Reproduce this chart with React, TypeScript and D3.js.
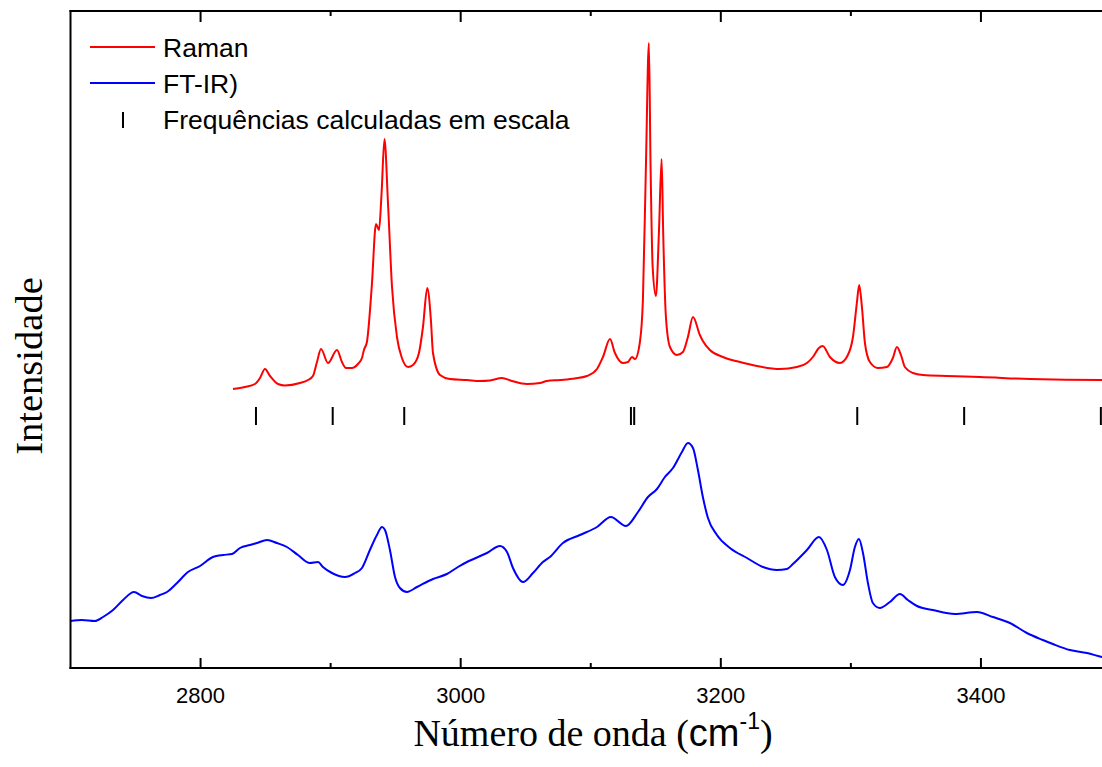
import React from 'react';
import * as d3 from 'd3';

// Raman spectrum: [wavenumber (cm-1), intensity (a.u.)]
const ramanSpectrum: [number, number][] = [
  [2824.9, 279], [2834.1, 281], [2841.8, 284], [2845.7, 290], [2849.5, 299], [2853.4, 292],
  [2859.5, 284], [2864.9, 282.5], [2876.4, 285], [2882.6, 288], [2886.4, 292], [2889.5, 306],
  [2892.6, 319], [2898.0, 305], [2904.9, 318], [2908.7, 306], [2911.8, 300], [2916.4, 300],
  [2921.0, 304], [2924.1, 310], [2925.6, 318], [2927.9, 326], [2931.6, 381], [2934.9, 444],
  [2937.2, 438], [2939.1, 473], [2941.4, 529], [2944.1, 465], [2947.2, 381], [2951.0, 331],
  [2954.8, 310], [2959.5, 301], [2963.3, 303], [2967.9, 315], [2971.0, 341], [2974.3, 380],
  [2977.1, 348], [2978.7, 315], [2984.1, 293], [2991.7, 289], [3004.8, 288], [3014.8, 287],
  [3022.5, 287.5], [3031.7, 290], [3039.4, 287], [3050.9, 284], [3060.9, 285], [3066.3, 287],
  [3076.3, 288], [3087.8, 289.5], [3097.1, 292], [3104.8, 299], [3109.4, 311], [3114.8, 329],
  [3118.6, 315], [3124.7, 305], [3128.6, 306], [3131.7, 311], [3134.0, 309], [3137.8, 326],
  [3140.1, 368], [3142.4, 501], [3144.7, 625], [3146.0, 501], [3147.6, 401], [3150.1, 372],
  [3152.4, 435], [3154.5, 509], [3155.7, 435], [3157.8, 351], [3160.9, 321], [3166.3, 313],
  [3170.9, 316], [3174.7, 331], [3178.6, 351], [3183.9, 333], [3186.2, 327], [3191.6, 318],
  [3201.6, 311], [3214.7, 306], [3227.8, 302], [3245.4, 299], [3258.5, 301], [3266.2, 305],
  [3270.8, 311], [3275.4, 320], [3278.3, 322], [3283.9, 311], [3291.6, 305], [3297.7, 313],
  [3301.6, 331], [3304.6, 365], [3306.4, 383], [3308.5, 361], [3310.8, 325], [3314.6, 306],
  [3320.8, 300], [3327.7, 301], [3332.3, 310], [3335.4, 321], [3338.5, 313], [3341.5, 301],
  [3347.7, 295], [3355.4, 293], [3373.8, 292], [3399.2, 291], [3437.6, 289], [3493.0, 288],
  [3500.0, 288],
];

// FT-IR spectrum: [wavenumber (cm-1), intensity (a.u.)]
const irSpectrum: [number, number][] = [
  [2700.0, 47], [2708.8, 48], [2718.8, 47], [2725.0, 51], [2732.7, 58], [2740.4, 68],
  [2748.8, 76], [2755.0, 72], [2761.9, 70], [2768.8, 73], [2774.2, 76], [2781.9, 85],
  [2790.3, 96], [2799.6, 102], [2809.5, 111], [2817.2, 113], [2824.2, 114], [2830.3, 120],
  [2838.0, 123], [2843.4, 125], [2851.1, 128], [2858.7, 125], [2866.4, 121], [2874.9, 113],
  [2884.1, 105], [2890.3, 106], [2894.1, 101], [2901.0, 95], [2911.0, 91], [2918.7, 95],
  [2924.1, 100], [2930.2, 118], [2935.6, 133], [2939.5, 141], [2941.8, 138], [2945.6, 118],
  [2949.5, 91], [2953.3, 80], [2958.7, 76], [2966.4, 81], [2978.7, 89], [2989.4, 94],
  [2997.9, 101], [3004.8, 106], [3020.2, 115], [3030.2, 122], [3035.6, 116], [3040.2, 100],
  [3047.9, 86], [3055.6, 95], [3063.2, 106], [3068.6, 111], [3078.6, 125], [3091.7, 133],
  [3104.8, 141], [3115.5, 151], [3127.0, 142], [3136.3, 156], [3144.0, 171], [3150.9, 179],
  [3157.0, 191], [3163.2, 200], [3170.1, 216], [3174.7, 225], [3178.6, 220], [3182.4, 198],
  [3186.2, 171], [3190.1, 150], [3197.0, 133], [3207.0, 120], [3220.1, 110], [3232.4, 101],
  [3243.1, 98], [3250.8, 99], [3255.4, 104], [3266.2, 118], [3275.4, 131], [3281.6, 118],
  [3287.7, 91], [3293.9, 83], [3299.3, 98], [3303.1, 121], [3306.2, 129], [3309.3, 115],
  [3313.1, 85], [3316.9, 65], [3322.3, 60], [3330.0, 66], [3337.7, 74], [3343.8, 68],
  [3350.8, 62], [3363.1, 58], [3380.0, 54], [3396.9, 56], [3409.2, 51], [3422.3, 45],
  [3435.3, 35], [3447.6, 28], [3455.3, 24], [3468.4, 18], [3481.5, 15], [3493.0, 11],
  [3500.0, 9],
];

// Scaled calculated frequencies (cm-1)
const calculatedFrequencies = [2842.6, 2901.6, 2956.6, 3130.9, 3133.4, 3304.9, 3387.1, 3492.2];

const majorTicks = [2800, 3000, 3200, 3400];
const minorTicks = [2900, 3100, 3300];

const legendLabels = ['Raman', 'FT-IR)', 'Frequências calculadas em escala'];

const W = 1102;
const H = 767;
const left = 70.5;
const top = 11;
const bottom = 668;
const right = 1111;

const SANS = '"Liberation Sans", Arial, sans-serif';
const SERIF = '"Liberation Serif", "Times New Roman", serif';

export default function App() {
  const x = d3.scaleLinear().domain([2700, 3500]).range([left, right]);
  const y = d3.scaleLinear().domain([0, 657]).range([bottom, top]);

  const line = d3
    .line<[number, number]>()
    .x((d) => x(d[0]))
    .y((d) => y(d[1]))
    .curve(d3.curveMonotoneX);

  // vertical extent of the calculated-frequency markers (intensity units)
  const markLo = 243;
  const markHi = 261;

  return (
    <svg
      width={W}
      height={H}
      style={{ position: 'absolute', left: 0, top: 0, background: '#fff' }}
    >
      <defs>
        <clipPath id="plot-area">
          <rect x={left} y={top} width={right - left} height={bottom - top} />
        </clipPath>
      </defs>

      <g clipPath="url(#plot-area)">
        <path d={line(irSpectrum) ?? ''} fill="none" stroke="#0000ff" strokeWidth={2} />
        <path d={line(ramanSpectrum) ?? ''} fill="none" stroke="#ff0000" strokeWidth={2} />
        {calculatedFrequencies.map((f, i) => (
          <line
            key={i}
            x1={x(f)}
            x2={x(f)}
            y1={y(markLo)}
            y2={y(markHi)}
            stroke="#000"
            strokeWidth={2}
          />
        ))}
      </g>

      {/* frame */}
      <line x1={left} x2={left} y1={top - 1} y2={bottom + 1} stroke="#000" strokeWidth={2} />
      <line x1={left - 1} x2={right} y1={top} y2={top} stroke="#000" strokeWidth={2} />
      <line x1={left - 1} x2={right} y1={bottom} y2={bottom} stroke="#000" strokeWidth={2} />
      <line x1={right} x2={right} y1={top} y2={bottom} stroke="#000" strokeWidth={2} />

      {/* ticks */}
      {majorTicks.map((t) => (
        <g key={t}>
          <line x1={x(t)} x2={x(t)} y1={bottom} y2={bottom - 10} stroke="#000" strokeWidth={2} />
          <line x1={x(t)} x2={x(t)} y1={top} y2={top + 11} stroke="#000" strokeWidth={2} />
          <text
            x={x(t)}
            y={703}
            textAnchor="middle"
            fontFamily={SANS}
            fontSize={22}
            fill="#000"
          >
            {t}
          </text>
        </g>
      ))}
      {minorTicks.map((t) => (
        <g key={t}>
          <line x1={x(t)} x2={x(t)} y1={bottom} y2={bottom - 5} stroke="#000" strokeWidth={2} />
          <line x1={x(t)} x2={x(t)} y1={top} y2={top + 5} stroke="#000" strokeWidth={2} />
        </g>
      ))}

      {/* axis titles */}
      <text x={593} y={746} textAnchor="middle" fill="#000">
        <tspan fontFamily={SERIF} fontSize={38}>Número de onda (</tspan>
        <tspan fontFamily={SANS} fontSize={38}>cm</tspan>
        <tspan fontFamily={SANS} fontSize={23} dy={-17}>-1</tspan>
        <tspan fontFamily={SERIF} fontSize={38} dy={17}>)</tspan>
      </text>
      <text
        transform={`translate(42, 366) rotate(-90)`}
        textAnchor="middle"
        fontFamily={SERIF}
        fontSize={38.5}
        fill="#000"
      >
        Intensidade
      </text>

      {/* legend */}
      <line x1={90} x2={155} y1={47} y2={47} stroke="#ff0000" strokeWidth={2} />
      <line x1={90} x2={155} y1={83} y2={83} stroke="#0000ff" strokeWidth={2} />
      <line x1={123} x2={123} y1={112} y2={128} stroke="#000" strokeWidth={2} />
      {legendLabels.map((l, i) => (
        <text
          key={l}
          x={163}
          y={57 + i * 36}
          fontFamily={SANS}
          fontSize={26.5}
          fill="#000"
        >
          {l}
        </text>
      ))}
    </svg>
  );
}
